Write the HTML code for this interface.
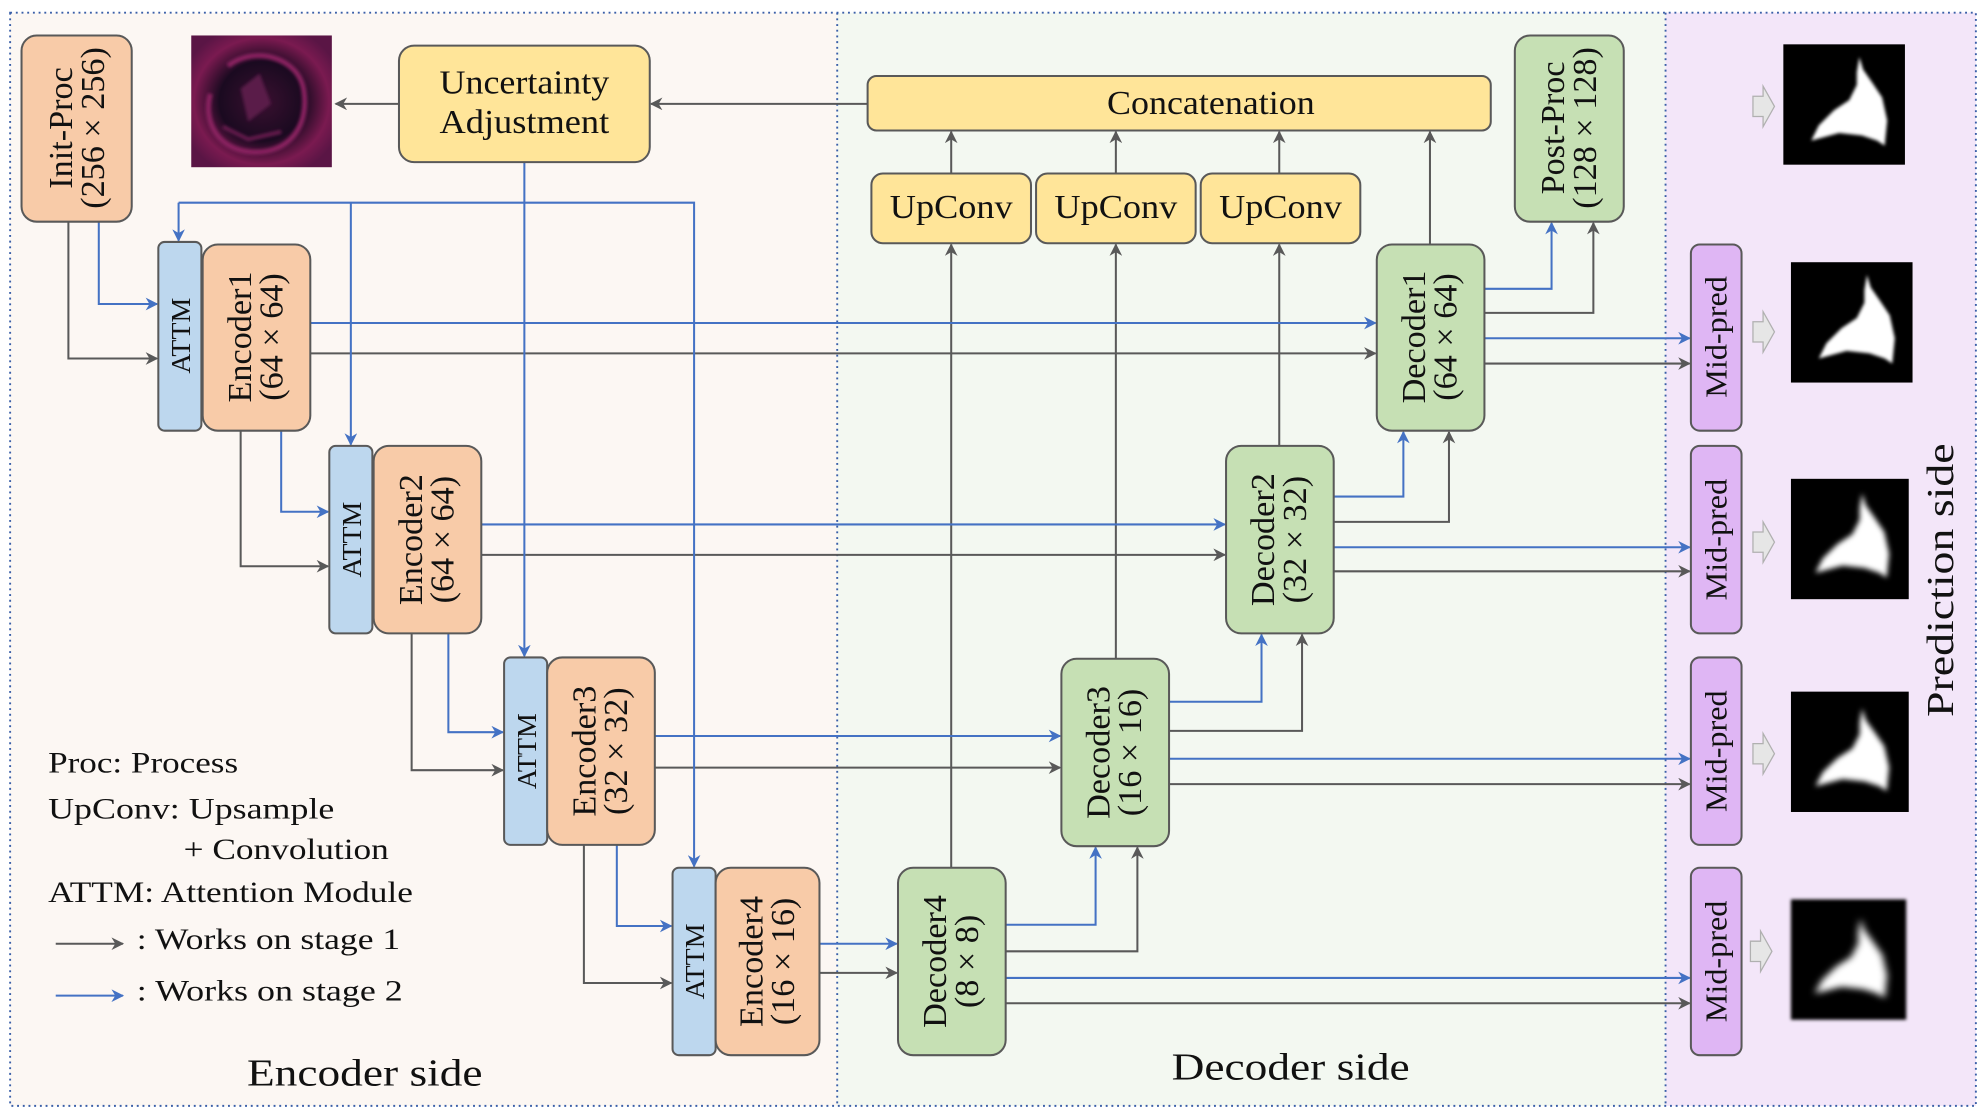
<!DOCTYPE html>
<html><head><meta charset="utf-8"><style>
html,body{margin:0;padding:0;background:#fff;}
svg{display:block;}
text{font-family:"Liberation Serif",serif;fill:#111;}
</style></head><body>
<svg width="1986" height="1116" viewBox="0 0 1568 881" preserveAspectRatio="none" xmlns="http://www.w3.org/2000/svg">
<defs>
<marker id="ag" markerWidth="10" markerHeight="10" refX="9" refY="5" orient="auto" markerUnits="userSpaceOnUse"><path d="M0,0 L10,5 L0,10 L3,5 Z" fill="#595959"/></marker>
<marker id="ab" markerWidth="10" markerHeight="10" refX="9" refY="5" orient="auto" markerUnits="userSpaceOnUse"><path d="M0,0 L10,5 L0,10 L3,5 Z" fill="#4472c4"/></marker>
<filter id="bl"><feGaussianBlur stdDeviation="1.2"/></filter>
<filter id="bl2"><feGaussianBlur stdDeviation="2.2"/></filter>
<filter id="bl3"><feGaussianBlur stdDeviation="3"/></filter>
<radialGradient id="us" cx="0.5" cy="0.5" r="0.6"><stop offset="0" stop-color="#3a1030"/><stop offset="0.5" stop-color="#1a0a20"/><stop offset="0.8" stop-color="#7a1a50"/><stop offset="1" stop-color="#5a1545"/></radialGradient>
<g id="blob"><path d="M60 10 L63 20 L70 30 L78 42 L82 60 L80 80 L74 76 L62 72 L44 70 L22 76 L28 64 L40 52 L52 44 L58 32 L58 22 Z" fill="#fff"/></g>
</defs>
<rect x="8" y="10" width="653" height="863" fill="#fcf7f3"/>
<rect x="661" y="10" width="654" height="863" fill="#f3f8f1"/>
<rect x="1315" y="10" width="245" height="863" fill="#f3e6f9"/>
<g fill="none" stroke="#3a5fa8" stroke-width="1.5" stroke-dasharray="1.5,3">
<rect x="8" y="10" width="1552" height="863"/>
<line x1="661" y1="10" x2="661" y2="873"/>
<line x1="1315" y1="10" x2="1315" y2="873"/>
</g>

<g fill="none" stroke="#595959" stroke-width="1.6" marker-end="url(#ag)">
<path d="M315 82 H265"/>
<path d="M685 82 H514"/>
<path d="M54 175 V283 H124"/>
<path d="M245 279 H1086"/>
<path d="M190 340 V447 H259"/>
<path d="M380 438 H967"/>
<path d="M325 500 V608 H397"/>
<path d="M517 606 H837"/>
<path d="M461 667 V776 H530"/>
<path d="M647 768 H708"/>
<path d="M751 685 V193"/>
<path d="M881 520 V193"/>
<path d="M1010 352 V193"/>
<path d="M751 137 V104"/>
<path d="M881 137 V104"/>
<path d="M1010 137 V104"/>
<path d="M1129 193 V104"/>
<path d="M794 751 H898 V669"/>
<path d="M923 577 H1028 V501"/>
<path d="M1053 412 H1144 V341"/>
<path d="M1172 247 H1258 V176"/>
<path d="M1172 287 H1334"/>
<path d="M1053 451 H1334"/>
<path d="M923 619 H1334"/>
<path d="M794 792 H1334"/>
<path d="M44 745 H97"/>
</g>
<g fill="none" stroke="#4472c4" stroke-width="1.6">
<path d="M414 128 V518" marker-end="url(#ab)"/>
<path d="M141 160 H548 V684" marker-end="url(#ab)"/>
<path d="M141 160 V190" marker-end="url(#ab)"/>
<path d="M277 160 V351" marker-end="url(#ab)"/>
<path d="M78 175 V240 H124" marker-end="url(#ab)"/>
<path d="M245 255 H1086" marker-end="url(#ab)"/>
<path d="M222 340 V404 H259" marker-end="url(#ab)"/>
<path d="M380 414 H967" marker-end="url(#ab)"/>
<path d="M354 500 V578 H397" marker-end="url(#ab)"/>
<path d="M517 581 H837" marker-end="url(#ab)"/>
<path d="M487 667 V731 H530" marker-end="url(#ab)"/>
<path d="M647 745 H708" marker-end="url(#ab)"/>
<path d="M794 730 H865 V669" marker-end="url(#ab)"/>
<path d="M923 554 H996 V501" marker-end="url(#ab)"/>
<path d="M1053 392 H1108 V341" marker-end="url(#ab)"/>
<path d="M1172 228 H1225 V176" marker-end="url(#ab)"/>
<path d="M1172 267 H1334" marker-end="url(#ab)"/>
<path d="M1053 432 H1334" marker-end="url(#ab)"/>
<path d="M923 599 H1334" marker-end="url(#ab)"/>
<path d="M794 772 H1334" marker-end="url(#ab)"/>
<path d="M44 786 H97" marker-end="url(#ab)"/>
</g>

<g stroke="#595959" stroke-width="1.6">
<rect x="17" y="28" width="87" height="147" rx="12" fill="#f8cba8"/>
<rect x="315" y="36" width="198" height="92" rx="12" fill="#ffe599"/>
<rect x="685" y="60" width="492" height="43" rx="7" fill="#ffe599"/>
<rect x="688" y="137" width="126" height="55" rx="9" fill="#ffe599"/>
<rect x="818" y="137" width="126" height="55" rx="9" fill="#ffe599"/>
<rect x="948" y="137" width="126" height="55" rx="9" fill="#ffe599"/>
<rect x="1196" y="28" width="86" height="147" rx="12" fill="#c6e0b4"/>
<rect x="125" y="191" width="34" height="149" rx="5" fill="#bdd7ee"/>
<rect x="160" y="193" width="85" height="147" rx="12" fill="#f8cba8"/>
<rect x="260" y="352" width="34" height="148" rx="5" fill="#bdd7ee"/>
<rect x="295" y="352" width="85" height="148" rx="12" fill="#f8cba8"/>
<rect x="398" y="519" width="34" height="148" rx="5" fill="#bdd7ee"/>
<rect x="432" y="519" width="85" height="148" rx="12" fill="#f8cba8"/>
<rect x="531" y="685" width="34" height="148" rx="5" fill="#bdd7ee"/>
<rect x="565" y="685" width="82" height="148" rx="12" fill="#f8cba8"/>
<rect x="709" y="685" width="85" height="148" rx="12" fill="#c6e0b4"/>
<rect x="838" y="520" width="85" height="148" rx="12" fill="#c6e0b4"/>
<rect x="968" y="352" width="85" height="148" rx="12" fill="#c6e0b4"/>
<rect x="1087" y="193" width="85" height="147" rx="12" fill="#c6e0b4"/>
<rect x="1335" y="193" width="40" height="147" rx="7" fill="#dfb6f4"/>
<rect x="1335" y="352" width="40" height="148" rx="7" fill="#dfb6f4"/>
<rect x="1335" y="519" width="40" height="148" rx="7" fill="#dfb6f4"/>
<rect x="1335" y="685" width="40" height="148" rx="7" fill="#dfb6f4"/>
</g>

<rect x="151" y="28" width="111" height="104" fill="url(#us)"/>
<g filter="url(#bl)">
<path d="M180 52 C200 36 236 44 240 72 C244 100 228 122 198 120 C172 118 160 96 166 74" fill="none" stroke="#8a2060" stroke-width="4"/>
<path d="M190 70 L205 58 L214 82 L196 96 Z" fill="#5a1a4a"/>
<path d="M176 100 L196 110 L222 104" fill="none" stroke="#6a1a50" stroke-width="3"/>
</g>

<rect x="1408" y="35" width="96" height="95" fill="#000"/>
<use href="#blob" transform="translate(1408,35)" filter="url(#bl)"/>
<rect x="1414" y="207" width="96" height="95" fill="#000"/>
<use href="#blob" transform="translate(1414,207)" filter="url(#bl)"/>
<rect x="1414" y="378" width="93" height="95" fill="#000"/>
<use href="#blob" transform="translate(1412,380) scale(0.97,0.95)" filter="url(#bl2)"/>
<rect x="1414" y="546" width="93" height="95" fill="#000"/>
<use href="#blob" transform="translate(1412,550) scale(0.97,0.93)" filter="url(#bl2)"/>
<rect x="1414" y="710" width="91" height="95" fill="#000" filter="url(#bl)"/>
<use href="#blob" transform="translate(1412,716) scale(0.95,0.9)" filter="url(#bl3)"/>
<g fill="#e6e6e6" stroke="#b0b0b0" stroke-width="1">
<path d="M1384 76 H1392 V68 L1401 84 L1392 100 V92 H1384 Z"/>
<path d="M1384 254 H1392 V246 L1401 262 L1392 278 V270 H1384 Z"/>
<path d="M1384 420 H1392 V412 L1401 428 L1392 444 V436 H1384 Z"/>
<path d="M1384 587 H1392 V579 L1401 595 L1392 611 V603 H1384 Z"/>
<path d="M1382 743 H1390 V735 L1399 751 L1390 767 V759 H1382 Z"/>
</g>

<g font-size="27" text-anchor="middle">
<text x="414" y="74" textLength="134" lengthAdjust="spacingAndGlyphs">Uncertainty</text>
<text x="414" y="105" textLength="134" lengthAdjust="spacingAndGlyphs">Adjustment</text>
<text x="956" y="90" textLength="164" lengthAdjust="spacingAndGlyphs">Concatenation</text>
<text x="751" y="172" textLength="97" lengthAdjust="spacingAndGlyphs">UpConv</text>
<text x="881" y="172" textLength="97" lengthAdjust="spacingAndGlyphs">UpConv</text>
<text x="1011" y="172" textLength="97" lengthAdjust="spacingAndGlyphs">UpConv</text>
<text transform="translate(61,101) rotate(-90)"><tspan x="0" y="-4">Init-Proc</tspan><tspan x="0" y="21">(256 × 256)</tspan></text>
<text transform="translate(1239,101) rotate(-90)"><tspan x="0" y="-4">Post-Proc</tspan><tspan x="0" y="21">(128 × 128)</tspan></text>
<text transform="translate(202,266) rotate(-90)"><tspan x="0" y="-4">Encoder1</tspan><tspan x="0" y="21">(64 × 64)</tspan></text>
<text transform="translate(337,426) rotate(-90)"><tspan x="0" y="-4">Encoder2</tspan><tspan x="0" y="21">(64 × 64)</tspan></text>
<text transform="translate(474,593) rotate(-90)"><tspan x="0" y="-4">Encoder3</tspan><tspan x="0" y="21">(32 × 32)</tspan></text>
<text transform="translate(606,759) rotate(-90)"><tspan x="0" y="-4">Encoder4</tspan><tspan x="0" y="21">(16 × 16)</tspan></text>
<text transform="translate(751,759) rotate(-90)"><tspan x="0" y="-4">Decoder4</tspan><tspan x="0" y="21">(8 × 8)</tspan></text>
<text transform="translate(880,594) rotate(-90)"><tspan x="0" y="-4">Decoder3</tspan><tspan x="0" y="21">(16 × 16)</tspan></text>
<text transform="translate(1010,426) rotate(-90)"><tspan x="0" y="-4">Decoder2</tspan><tspan x="0" y="21">(32 × 32)</tspan></text>
<text transform="translate(1129,266) rotate(-90)"><tspan x="0" y="-4">Decoder1</tspan><tspan x="0" y="21">(64 × 64)</tspan></text>
</g>
<g font-size="22" text-anchor="middle">
<text transform="translate(150,265) rotate(-90)">ATTM</text>
<text transform="translate(285,426) rotate(-90)">ATTM</text>
<text transform="translate(423,593) rotate(-90)">ATTM</text>
<text transform="translate(556,759) rotate(-90)">ATTM</text>
</g>
<g font-size="24" text-anchor="middle">
<text transform="translate(1363,266) rotate(-90)" textLength="96" lengthAdjust="spacingAndGlyphs">Mid-pred</text>
<text transform="translate(1363,426) rotate(-90)" textLength="96" lengthAdjust="spacingAndGlyphs">Mid-pred</text>
<text transform="translate(1363,593) rotate(-90)" textLength="96" lengthAdjust="spacingAndGlyphs">Mid-pred</text>
<text transform="translate(1363,759) rotate(-90)" textLength="96" lengthAdjust="spacingAndGlyphs">Mid-pred</text>
</g>
<g font-size="23">
<text x="38" y="610" textLength="150" lengthAdjust="spacingAndGlyphs">Proc: Process</text>
<text x="38" y="646" textLength="226" lengthAdjust="spacingAndGlyphs">UpConv: Upsample</text>
<text x="145" y="678" textLength="162" lengthAdjust="spacingAndGlyphs">+ Convolution</text>
<text x="38" y="712" textLength="288" lengthAdjust="spacingAndGlyphs">ATTM: Attention Module</text>
<text x="108" y="749" textLength="208" lengthAdjust="spacingAndGlyphs">: Works on stage 1</text>
<text x="108" y="790" textLength="210" lengthAdjust="spacingAndGlyphs">: Works on stage 2</text>
</g>
<g font-size="30">
<text x="195" y="857" textLength="186" lengthAdjust="spacingAndGlyphs">Encoder side</text>
<text x="925" y="852" textLength="188" lengthAdjust="spacingAndGlyphs">Decoder side</text>
<text transform="translate(1542,566) rotate(-90)" textLength="216" lengthAdjust="spacingAndGlyphs">Prediction side</text>
</g>
</svg>
</body></html>
